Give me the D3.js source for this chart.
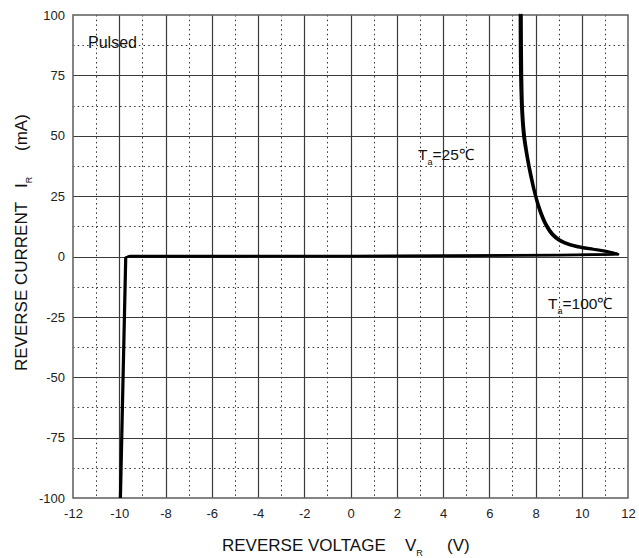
<!DOCTYPE html>
<html><head><meta charset="utf-8">
<script src="https://cdn.jsdelivr.net/npm/d3@7"></script>
<style>body{margin:0;background:#fff}</style>
</head><body>
<svg id="c" width="639" height="558"></svg>
<script>
const xTicks = [-12,-10,-8,-6,-4,-2,0,2,4,6,8,10,12];
const yTicks = [-100,-75,-50,-25,0,25,50,75,100];
const xMinor = [-11,-9,-7,-5,-3,-1,1,3,5,7,9,11];
const yMinor = [-87.5,-62.5,-37.5,-12.5,12.5,37.5,62.5,87.5];
// Ta = 25°C (V, mA)
const base25 = [[-9.97,-100],[-9.74,-0.5],[-9.6,0],[-5,0],[0,0.1],[5,0.3],[9,0.5],[10.5,0.7],[11.3,0.8],[11.58,0.9]];
const knee25 = [[11.58,0.9],[11.0,2.0],[10.5,2.8],[10.0,3.5],[9.5,4.6],[9.0,6.6],[8.7,9.0],[8.45,12.5],[8.2,18],[7.98,25],
  [7.78,33],[7.6,42],[7.47,50],[7.39,60],[7.34,75],[7.32,100]];
// Ta = 100°C
const base100 = [[-9.93,-100],[-9.70,-0.3],[-9.55,0.2],[-5,0.2],[0,0.3],[5,0.5],[9,0.7],[10.5,0.9],[11.3,1.0],[11.55,1.1]];
const knee100 = [[11.55,1.1],[11.0,2.4],[10.5,3.2],[10.0,4.0],[9.5,5.1],[9.05,7.1],[8.75,9.5],[8.5,13],[8.25,18.5],[8.03,25],
  [7.84,33],[7.66,42],[7.54,50],[7.46,60],[7.42,75],[7.40,100]];

const svg = d3.select("#c");
const L=73, R=628, T=15, B=498;
const x = d3.scaleLinear().domain([-12,12]).range([L,R]);
const y = d3.scaleLinear().domain([-100,100]).range([B,T]);
const px = v => Math.round(v)+0.5;
const font = "'Liberation Sans', Arial, sans-serif";

// minor dotted grid
svg.append("g").selectAll("line").data(xMinor).join("line")
  .attr("x1",d=>px(x(d))).attr("x2",d=>px(x(d))).attr("y1",T).attr("y2",B)
  .attr("stroke","#333").attr("stroke-width",1).attr("stroke-dasharray","1.5,3.2");
svg.append("g").selectAll("line").data(yMinor).join("line")
  .attr("y1",d=>px(y(d))).attr("y2",d=>px(y(d))).attr("x1",L).attr("x2",R)
  .attr("stroke","#333").attr("stroke-width",1).attr("stroke-dasharray","1.5,3.2");
// major solid grid
svg.append("g").selectAll("line").data(xTicks.slice(1,-1)).join("line")
  .attr("x1",d=>px(x(d))).attr("x2",d=>px(x(d))).attr("y1",T).attr("y2",B)
  .attr("stroke","#3a3a3a").attr("stroke-width",1.2);
svg.append("g").selectAll("line").data(yTicks.slice(1,-1)).join("line")
  .attr("y1",d=>px(y(d))).attr("y2",d=>px(y(d))).attr("x1",L).attr("x2",R)
  .attr("stroke","#3a3a3a").attr("stroke-width",1.2);
// frame
svg.append("rect").attr("x",L).attr("y",T).attr("width",R-L).attr("height",B-T)
  .attr("fill","none").attr("stroke","#666").attr("stroke-width",1.6);

// axes (labels only)
const xa = svg.append("g").attr("transform",`translate(0,${B})`)
  .call(d3.axisBottom(x).tickValues(xTicks).tickFormat(d=>String(d)).tickSize(0).tickPadding(11));
const ya = svg.append("g").attr("transform",`translate(${L},0)`)
  .call(d3.axisLeft(y).tickValues(yTicks).tickFormat(d=>String(d)).tickSize(0).tickPadding(8));
[xa,ya].forEach(a=>{a.select(".domain").remove();
  a.selectAll("text").attr("font-family",font).attr("font-size",13).attr("fill","#222");});

// curves
const lin = d3.line().x(d=>x(d[0])).y(d=>y(d[1]));
const smooth = d3.line().x(d=>x(d[0])).y(d=>y(d[1])).curve(d3.curveCatmullRom.alpha(0.5));
[[base25,knee25],[base100,knee100]].forEach(([b,k])=>{
  svg.append("path").datum(b).attr("d",lin).attr("fill","none")
    .attr("stroke","#000").attr("stroke-width",2.3).attr("stroke-linejoin","round");
  svg.append("path").datum(k).attr("d",smooth).attr("fill","none")
    .attr("stroke","#000").attr("stroke-width",2.3).attr("stroke-linejoin","round").attr("stroke-linecap","round");
});

// annotations
svg.append("text").attr("x",88).attr("y",48).attr("font-family",font).attr("font-size",16).attr("fill","#111").text("Pulsed");
function ta(xp,yp,t){
  const g=svg.append("text").attr("x",xp).attr("y",yp).attr("font-family",font).attr("font-size",15.5).attr("fill","#111");
  g.append("tspan").text("T");
  g.append("tspan").attr("font-size",9).attr("dy",5).text("a");
  g.append("tspan").attr("dy",-5).text(t);
}
ta(418,160,"=25℃");
ta(548,309,"=100℃");

// axis titles
const xt = svg.append("text").attr("x",222).attr("y",551).attr("font-family",font).attr("font-size",17).attr("fill","#111");
xt.append("tspan").text("REVERSE VOLTAGE");
xt.append("tspan").attr("x",405).text("V");
xt.append("tspan").attr("font-size",9).attr("dy",5).text("R");
xt.append("tspan").attr("dy",-5).attr("x",447).text("(V)");

const yt = svg.append("text").attr("transform","translate(27,371) rotate(-90)").attr("font-family",font).attr("font-size",17).attr("fill","#111");
yt.append("tspan").attr("x",0).text("REVERSE CURRENT");
yt.append("tspan").attr("x",183).text("I");
yt.append("tspan").attr("font-size",9).attr("dy",5).text("R");
yt.append("tspan").attr("dy",-5).attr("x",220).text("(mA)");
</script>
</body></html>
